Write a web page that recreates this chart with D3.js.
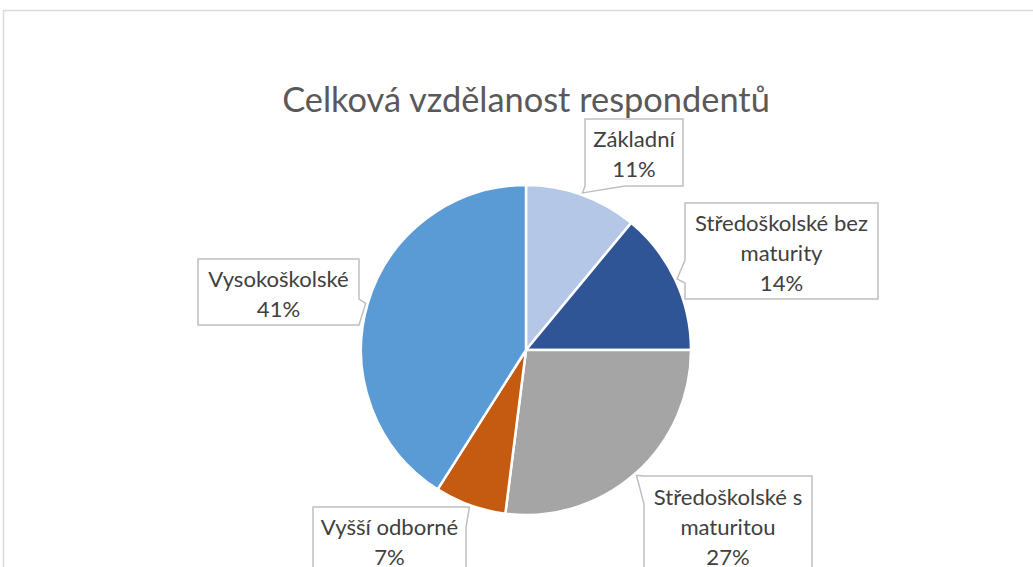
<!DOCTYPE html>
<html><head><meta charset="utf-8">
<script src="https://cdn.jsdelivr.net/npm/d3@7"></script>
<style>html,body{margin:0;padding:0;background:#fff;overflow:hidden}</style>
</head><body>
<svg id="c" width="1033" height="567"></svg>
<script>
// data
const categories = ["Základní", "Středoškolské bez maturity", "Středoškolské s maturitou", "Vyšší odborné", "Vysokoškolské"];
const values = [11, 14, 27, 7, 41];
const labelLines = [["Základní"], ["Středoškolské bez", "maturity"], ["Středoškolské s", "maturitou"], ["Vyšší odborné"], ["Vysokoškolské"]];
const title = "Celková vzdělanost respondentů";

// layout (positions/styles)
const colors = ["#b4c7e7", "#2f5597", "#a5a5a5", "#c55a11", "#5b9bd5"];
const cx = 526, cy = 350, R = 165;
const boxes = [
  {x: 585, y: 119, w: 98, h: 67, side: "bottom", b0: 0, b1: 40},
  {x: 685, y: 203, w: 193, h: 96, side: "left", b0: 57, b1: 80},
  {x: 644, y: 476, w: 168, h: 110, side: "left", b0: 0, b1: 28},
  {x: 313, y: 507, w: 153, h: 80, side: "right", b0: 0, b1: 20},
  {x: 198, y: 259, w: 161, h: 66, side: "right", b0: 40, b1: 66}
];
const lineCenters = [[139, 169], [223, 253, 283], [497, 527, 557], [527, 557], [279, 309]];

const svg = d3.select("#c");
// outer frame
svg.append("rect").attr("x", 3.5).attr("y", 10.5).attr("width", 1100).attr("height", 700)
  .attr("fill", "#fff").attr("stroke", "#d9d9d9").attr("stroke-width", 1.5);

// title
const t = svg.append("text").attr("x", cx).attr("y", 112).attr("text-anchor", "middle")
  .attr("font-family", "Lato").attr("fill", "#595959").attr("font-size", 30).text(title);
let tw = t.node().getComputedTextLength();
t.attr("font-size", 30 * 488 / tw);

const pie = d3.pie().sort(null).value(d => d)(values);
const arc = d3.arc().innerRadius(0).outerRadius(R);
const g = svg.append("g").attr("transform", `translate(${cx},${cy})`);
g.selectAll("path").data(pie).join("path")
  .attr("d", arc).attr("fill", (d, i) => colors[i])
  .attr("stroke", "#fff").attr("stroke-width", 2.5).attr("stroke-linejoin", "round");

// label font size fit
const probe = svg.append("text").attr("font-family", "Lato").attr("font-size", 20).text("Středoškolské bez");
const lfs = 20 * 173 / probe.node().getComputedTextLength();
probe.remove();

const tipArc = d3.arc().innerRadius(R + 2).outerRadius(R + 2);
pie.forEach((d, i) => {
  const b = boxes[i];
  const m = (d.startAngle + d.endAngle) / 2;
  const tip = [cx + Math.sin(m) * (R + 2), cy - Math.cos(m) * (R + 2)];
  const x0 = b.x, y0 = b.y, x1 = b.x + b.w, y1 = b.y + b.h;
  const p = d3.path();
  p.moveTo(x0, y0);
  // top
  p.lineTo(x1, y0);
  // right
  if (b.side === "right") { p.lineTo(x1, y0 + b.b0); p.lineTo(tip[0], tip[1]); p.lineTo(x1, y0 + b.b1); }
  p.lineTo(x1, y1);
  // bottom (right to left)
  if (b.side === "bottom") { p.lineTo(x0 + b.b1, y1); p.lineTo(tip[0], tip[1]); p.lineTo(x0 + b.b0, y1); }
  p.lineTo(x0, y1);
  // left (bottom to top)
  if (b.side === "left") { p.lineTo(x0, y0 + b.b1); p.lineTo(tip[0], tip[1]); p.lineTo(x0, y0 + b.b0); }
  p.closePath();
  svg.append("path").attr("d", p.toString()).attr("fill", "#fff")
    .attr("stroke", "#bfbfbf").attr("stroke-width", 1.5).attr("stroke-linejoin", "miter");
  const lines = labelLines[i].concat([values[i] + "%"]);
  const tx = svg.append("text").attr("font-family", "Lato").attr("font-size", lfs)
    .attr("fill", "#404040").attr("text-anchor", "middle");
  lines.forEach((ln, k) => {
    tx.append("tspan").attr("x", b.x + b.w / 2).attr("y", lineCenters[i][k]).attr("dy", "0.36em").text(ln);
  });
});
</script>
</body></html>
